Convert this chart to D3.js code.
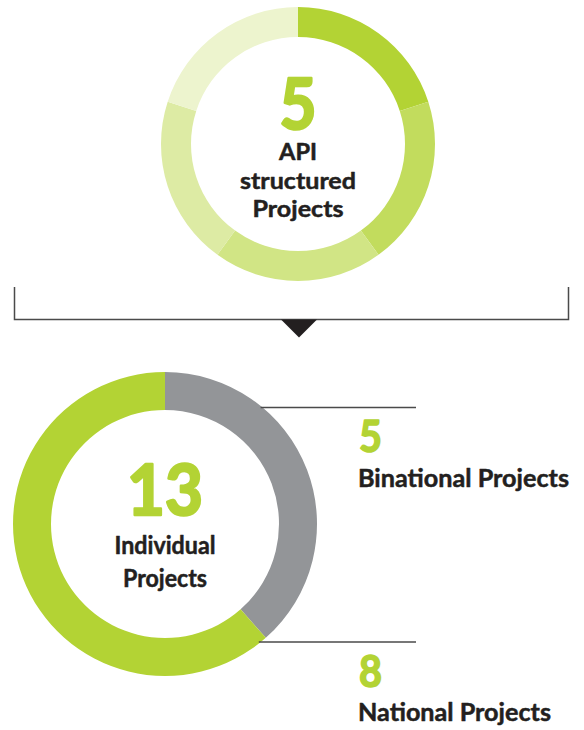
<!DOCTYPE html>
<html>
<head>
<meta charset="utf-8">
<script src="https://cdn.jsdelivr.net/npm/d3@7"></script>
<style>
  html, body { margin: 0; padding: 0; background: #fff; }
  svg { display: block; font-family: Lato, "Open Sans", sans-serif; font-weight: 700; }
</style>
</head>
<body>
<svg id="chart" width="584" height="730"></svg>
<script>
// ---- data ----
const topCategories = ["Project 1", "Project 2", "Project 3", "Project 4", "Project 5"];
const topValues = [1, 1, 1, 1, 1];
const topTotalLabel = "5";
const topCaption = ["API", "structured", "Projects"];

const bottomCategories = ["Binational Projects", "National Projects"];
const bottomValues = [5, 8];
const bottomTotalLabel = "13";
const bottomCaption = ["Individual", "Projects"];

// ---- style ----
const green = "#b3d334";
const gray = "#939598";
const dark = "#231f20";
const topOpacities = [1, 0.8, 0.6, 0.45, 0.24];

const svg = d3.select("#chart");

function fitText(sel, width) {
  sel.attr("textLength", width).attr("lengthAdjust", "spacingAndGlyphs");
}
function heavy(sel, color, w) {
  sel.attr("stroke", color).attr("stroke-width", w).attr("stroke-linejoin", "round");
}

// ---- top donut ----
const topC = { x: 298, y: 144 };
const topPie = d3.pie().sort(null).value(d => d)(topValues);
const topArc = d3.arc().innerRadius(107).outerRadius(137);
const topColor = d3.scaleOrdinal().domain(topCategories)
  .range(topOpacities.map(o => d3.interpolateRgb("#ffffff", green)(o)));

const gTop = svg.append("g").attr("transform", `translate(${topC.x},${topC.y})`);
gTop.selectAll("path").data(topPie).join("path")
  .attr("d", topArc)
  .attr("fill", (d, i) => topColor(topCategories[i]));

gTop.append("text").text(topTotalLabel)
  .attr("x", 0).attr("y", -15).attr("text-anchor", "middle")
  .attr("font-size", 70).attr("fill", green)
  .call(heavy, green, 2.6)
  .call(fitText, 37);
const topCapY = [16, 45, 73];
const topCapW = [38, 116, 91];
topCaption.forEach((t, i) => {
  gTop.append("text").text(t)
    .attr("x", 0).attr("y", topCapY[i]).attr("text-anchor", "middle")
    .attr("font-size", 23).attr("fill", dark)
    .call(heavy, dark, 0.5)
    .call(fitText, topCapW[i]);
});

// ---- bracket connector ----
const bracket = svg.append("g");
bracket.append("path")
  .attr("d", "M14.5,287 V319.5 H568.5 V287")
  .attr("fill", "none").attr("stroke", "#4a4a4a").attr("stroke-width", 1.5);
bracket.append("path")
  .attr("d", `M${topC.x + 1 - 18},319.5 L${topC.x + 1 + 18},319.5 L${topC.x + 1},337.5 Z`)
  .attr("fill", dark);

// ---- bottom donut ----
const botC = { x: 165, y: 524 };
const rOut = 152, rIn = 114;
const botPie = d3.pie().sort(null).value(d => d)(bottomValues);
const botArc = d3.arc().innerRadius(rIn).outerRadius(rOut);
const botColor = d3.scaleOrdinal().domain(bottomCategories).range([gray, green]);

const gBot = svg.append("g").attr("transform", `translate(${botC.x},${botC.y})`);
gBot.selectAll("path").data(botPie).join("path")
  .attr("d", botArc)
  .attr("fill", (d, i) => botColor(bottomCategories[i]));

gBot.append("text").text(bottomTotalLabel)
  .attr("x", 0).attr("y", -9).attr("text-anchor", "middle")
  .attr("font-size", 70).attr("fill", green)
  .call(heavy, green, 2.6)
  .call(fitText, 76);
const botCapY = [30, 63];
const botCapW = [101, 84];
bottomCaption.forEach((t, i) => {
  gBot.append("text").text(t)
    .attr("x", 0).attr("y", botCapY[i]).attr("text-anchor", "middle")
    .attr("font-size", 24).attr("fill", dark)
    .call(heavy, dark, 0.5)
    .call(fitText, botCapW[i]);
});

// ---- leader lines & labels ----
const labelX = 358;
const lineEnd = 416;
const leaderY = [407.5, 642];
const numY = [452, 687];
const nameY = [487, 721];
const nameW = [211, 193];
bottomCategories.forEach((name, i) => {
  const dy = leaderY[i] - botC.y;
  const x0 = botC.x + Math.sqrt(rOut * rOut - dy * dy) - 2;
  svg.append("line")
    .attr("x1", x0).attr("x2", lineEnd)
    .attr("y1", leaderY[i]).attr("y2", leaderY[i])
    .attr("stroke", "#4a4a4a").attr("stroke-width", 1.3);
  svg.append("text").text(String(bottomValues[i]))
    .attr("x", labelX + 1).attr("y", numY[i])
    .attr("font-size", 44).attr("fill", green)
    .call(heavy, green, 1.6)
    .call(fitText, 23);
  svg.append("text").text(name)
    .attr("x", labelX).attr("y", nameY[i])
    .attr("font-size", 25).attr("fill", dark)
    .call(heavy, dark, 0.5)
    .call(fitText, nameW[i]);
});
</script>
</body>
</html>
